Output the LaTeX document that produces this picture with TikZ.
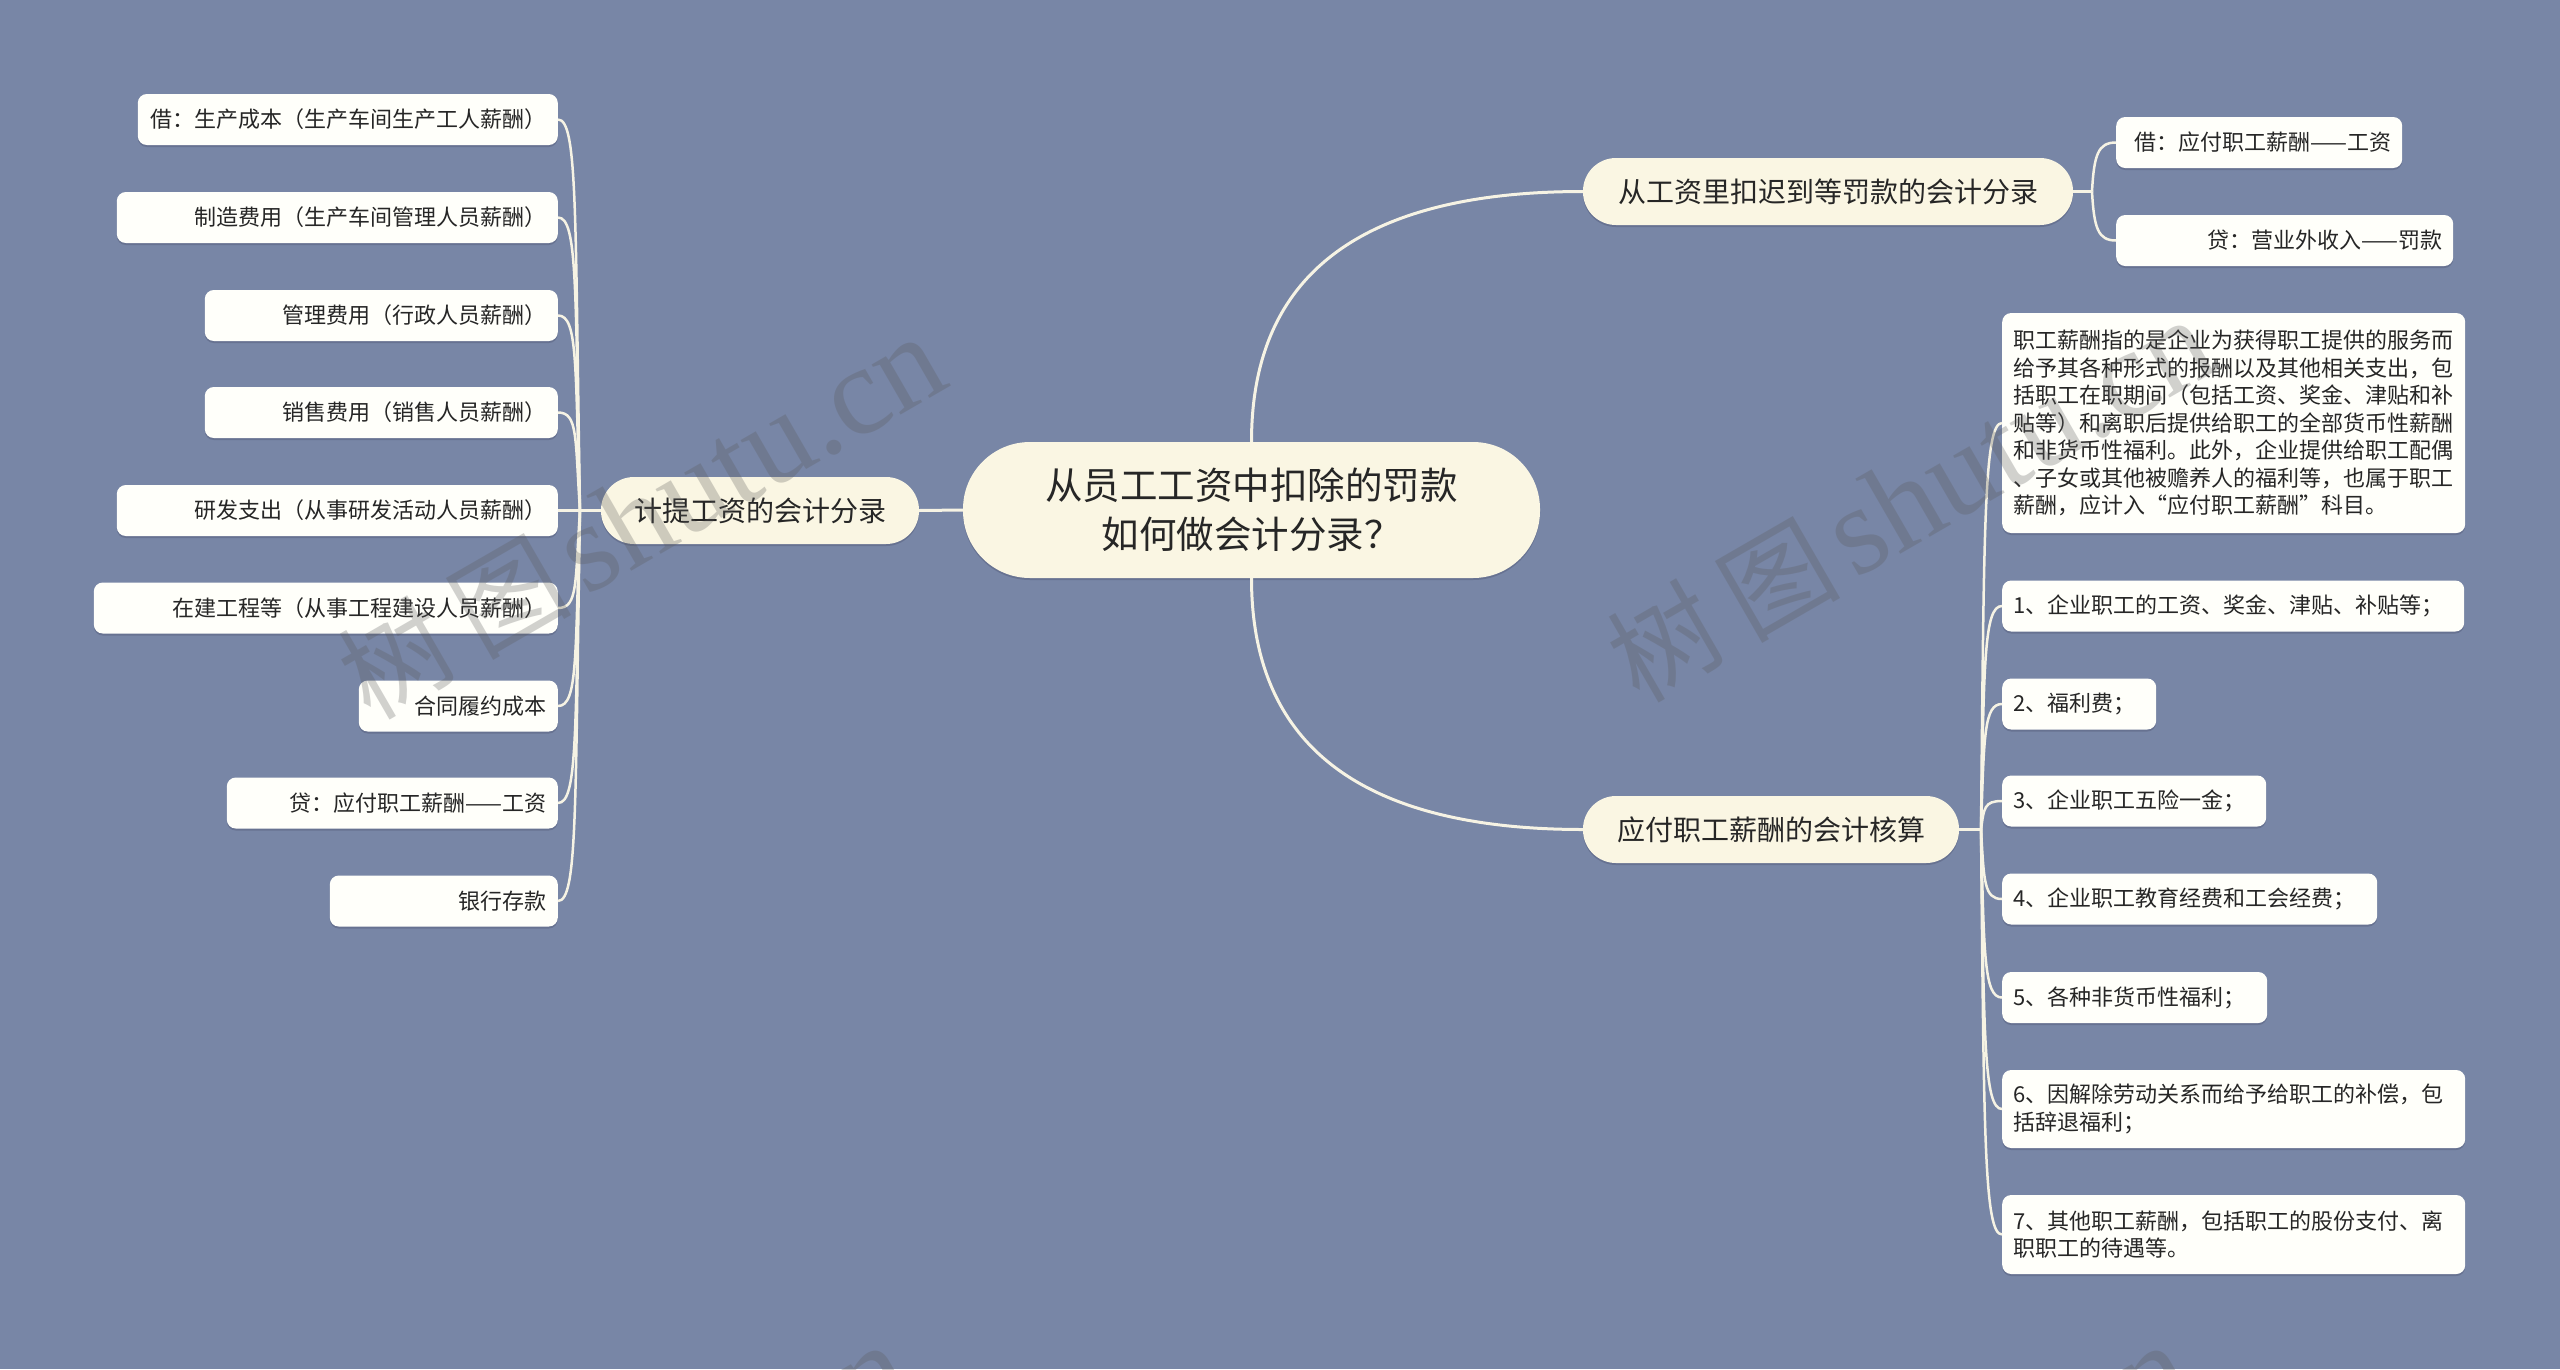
\documentclass[tikz,border=0pt]{standalone}
\usepackage{fontspec}
\setmainfont{Noto Sans CJK SC}
\newfontfamily\wmlat{Liberation Serif}
\usetikzlibrary{shadows}
\definecolor{bgc}{RGB}{120,134,166}
\definecolor{maincol}{RGB}{250,246,227}
\definecolor{leafcol}{RGB}{255,255,250}
\definecolor{linecol}{RGB}{246,243,228}
\definecolor{txt}{RGB}{38,38,38}
\definecolor{shc}{RGB}{92,102,132}
\definecolor{wmc}{RGB}{90,90,90}
\tikzset{
  softshadow/.style={drop shadow={shadow xshift=0pt,shadow yshift=-2pt,opacity=0.6,fill=shc}},
  central/.style={fill=maincol, rounded corners=67pt, minimum width=577pt, minimum height=136pt,
    inner sep=0pt, align=center, font={\fontsize{37.5}{49}\selectfont}, text=txt, softshadow},
  branch/.style={fill=maincol, rounded corners=33pt, minimum height=67pt, inner sep=0pt,
    font={\fontsize{28}{34}\selectfont}, text=txt, softshadow},
  leaf/.style={fill=leafcol, rounded corners=9pt, minimum height=51pt, inner xsep=11pt, inner ysep=0pt,
    font={\fontsize{22}{27.5}\selectfont}, text=txt, softshadow},
  leafr/.style={leaf, align=right, anchor=east},
  leafrw/.style={leaf, align=right, anchor=west},
  leafl/.style={leaf, align=left, anchor=west},
  conn/.style={draw=linecol, line width=3pt},
  sub/.style={draw=linecol, line width=2.5pt},
  wm/.style={text=wmc, text opacity=0.28, inner sep=0pt, rotate=30, anchor=base west},
}
\newcommand{\wmtext}{{\fontsize{108}{108}\selectfont 树\kern21pt 图}\kern13pt{\fontsize{126}{126}\selectfont\wmlat shutu.cn}}
\begin{document}
\begin{tikzpicture}[x=1pt,y=-1pt]
\fill[bgc] (0,0) rectangle (2560,1369);
\useasboundingbox (0,0) rectangle (2560,1369);

% central and branches
\node[central] (C) at (1251.5,510) {从员工工资中扣除的罚款\\如何做会计分录？};
\node[branch, minimum width=318pt] (LB) at (760,510.5) {计提工资的会计分录};
\node[branch, minimum width=490pt] (R1) at (1828,191.5) {从工资里扣迟到等罚款的会计分录};
\node[branch, minimum width=376pt] (R2) at (1771,829.5) {应付职工薪酬的会计核算};

% left leaves
\node[leafr, text width=398pt] (l1) at (558,119.5) {借：生产成本（生产车间生产工人薪酬）};
\node[leafr, text width=419pt] (l2) at (558,217.5) {制造费用（生产车间管理人员薪酬）};
\node[leafr, text width=331pt] (l3) at (558,315.5) {管理费用（行政人员薪酬）};
\node[leafr, text width=331pt] (l4) at (558,412.5) {销售费用（销售人员薪酬）};
\node[leafr, text width=419pt] (l5) at (558,510.5) {研发支出（从事研发活动人员薪酬）};
\node[leafr, text width=442pt] (l6) at (558,608) {在建工程等（从事工程建设人员薪酬）};
\node[leafr, text width=177pt] (l7) at (558,706) {合同履约成本};
\node[leafr, text width=309pt] (l8) at (558,803) {贷：应付职工薪酬——工资};
\node[leafr, text width=206pt] (l9) at (558,901) {银行存款};

% right top leaves
\node[leafrw, text width=264pt] (ra) at (2116,142.5) {借：应付职工薪酬——工资};
\node[leafrw, text width=315pt] (rb) at (2116,240.5) {贷：营业外收入——罚款};

% right bottom leaves
\node[leafl, text width=441pt, minimum height=220pt] (p) at (2002,423) {职工薪酬指的是企业为获得职工提供的服务而\\给予其各种形式的报酬以及其他相关支出，包\\括职工在职期间（包括工资、奖金、津贴和补\\贴等）和离职后提供给职工的全部货币性薪酬\\和非货币性福利。此外，企业提供给职工配偶\\、子女或其他被赡养人的福利等，也属于职工\\薪酬，应计入“应付职工薪酬”科目。};
\node[leafl, text width=440pt] (q1) at (2002,606) {1、企业职工的工资、奖金、津贴、补贴等；};
\node[leafl, text width=132pt] (q2) at (2002,704) {2、福利费；};
\node[leafl, text width=242pt] (q3) at (2002,801) {3、企业职工五险一金；};
\node[leafl, text width=353pt] (q4) at (2002,899) {4、企业职工教育经费和工会经费；};
\node[leafl, text width=243pt] (q5) at (2002,997.5) {5、各种非货币性福利；};
\node[leafl, text width=441pt, minimum height=78pt] (q6) at (2002,1109) {6、因解除劳动关系而给予给职工的补偿，包\\括辞退福利；};
\node[leafl, text width=441pt, minimum height=79pt] (q7) at (2002,1234.5) {7、其他职工薪酬，包括职工的股份支付、离\\职职工的待遇等。};

% junctions
\coordinate (JL) at (580,510.5);
\coordinate (J1) at (2092,191.5);
\coordinate (J2) at (1981,829.5);

% main connectors
\draw[conn] (C.west) -- (LB.east);
\draw[conn] (C.north) .. controls +(0,-142) and (1330,191.5) .. (R1.west);
\draw[conn] (C.south) .. controls +(0,142) and (1330,829.5) .. (R2.west);

% left sub connectors
\draw[sub] (LB.west) -- (JL);
\foreach \n/\cy in {1/217.25, 2/290.75, 3/364.25, 4/437, 6/583.6, 7/657.1, 8/729.9, 9/803.4}
  \draw[sub] (l\n.east) .. controls +(20,0) and (575,\cy) .. (JL);
\draw[sub] (l5.east) -- (JL);

% right top sub connectors
\draw[sub] (R1.east) -- (J1);
\draw[sub] (ra.west) .. controls +(-18,0) and (2094,154.75) .. (J1);
\draw[sub] (rb.west) .. controls +(-18,0) and (2094,228.25) .. (J1);

% right bottom sub connectors
\draw[sub] (R2.east) -- (J2);
\foreach \n/\cy in {p/524.6, q1/661.9, q2/735.4, q3/808.1, q4/881.6, q5/955.5, q6/1039.1, q7/1133.25}
  \draw[sub] (\n.west) .. controls +(-18,0) and (1984,\cy) .. (J2);

% watermarks
\begin{scope}
\clip (0,0) rectangle (2560,1369);
\node[wm] (w1) at (370,722) {\wmtext};
\node[wm] (w2) at (1639,705) {\wmtext};
\node[wm] (w3) at (335,1730) {\wmtext};
\node[wm] (w4) at (1616,1730) {\wmtext};
\end{scope}
\end{tikzpicture}
\end{document}
